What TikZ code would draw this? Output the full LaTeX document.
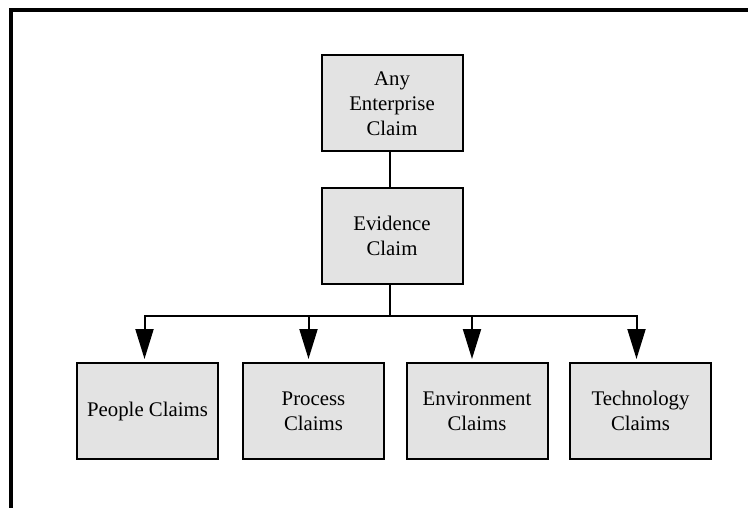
\documentclass[tikz,border=0pt]{standalone}
\usepackage{fontspec}
\setmainfont{Liberation Serif}
\usetikzlibrary{arrows.meta, positioning}

\begin{document}
\begin{tikzpicture}[
    x=1pt, y=-1pt,
    claim/.style={draw=black, line width=2pt, fill=black!11, align=center,
        minimum width=141pt, minimum height=96pt, inner sep=2pt,
        font=\fontsize{20.8}{25}\selectfont},
    link/.style={draw=black, line width=2pt},
    arr/.style={link, -{Triangle[width=18pt, length=30pt]}, shorten >=3pt}
]
\useasboundingbox (0,0) rectangle (748,508);

% Frame
\draw[line width=4pt] (10.5,508) -- (10.5,10.5) -- (748,10.5);

% Claims
\node[claim] (any) at (392,103.5) {Any\\Enterprise\\Claim};
\node[claim] (evid) at (392,236) {Evidence\\Claim};
\node[claim] (people) at (147.5,411) {People Claims};
\node[claim] (process) at (313.5,411) {Process\\Claims};
\node[claim] (env) at (477,411) {Environment\\Claims};
\node[claim] (tech) at (640.5,411) {Technology\\Claims};

% Links
\coordinate (bus) at (390,316);
\draw[link] ([xshift=-2pt]any.south) -- ([xshift=-2pt]evid.north);
\draw[link] ([xshift=-2pt]evid.south) -- (bus);
\draw[link, line cap=rect] ([xshift=-3pt]people.north |- bus) -- ([xshift=-4pt]tech.north |- bus);
\foreach \n/\s in {people/-3pt, process/-5pt, env/-5pt, tech/-4pt}
    \draw[arr] ([xshift=\s]\n.north |- bus) -- ([xshift=\s]\n.north);

\end{tikzpicture}
\end{document}
